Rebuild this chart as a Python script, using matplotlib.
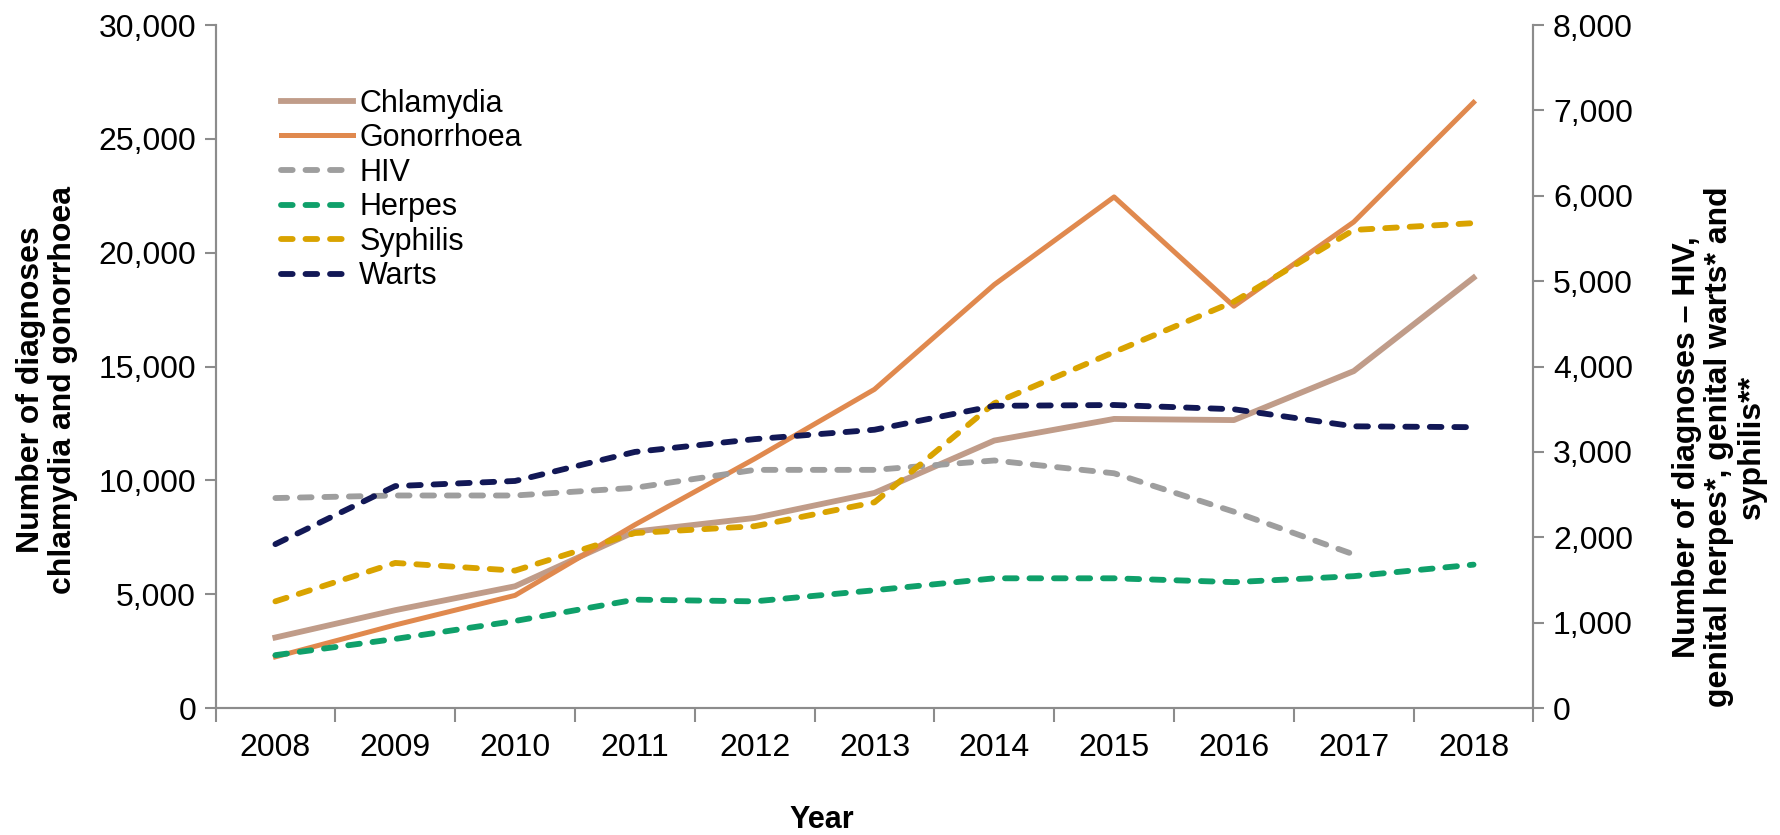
import matplotlib.pyplot as plt
import matplotlib.ticker as mticker

years = [2008, 2009, 2010, 2011, 2012, 2013, 2014, 2015, 2016, 2017, 2018]

# left axis
chlamydia = [3100, 4300, 5350, 7750, 8350, 9450, 11750, 12700, 12650, 14800, 18900]
gonorrhoea = [2250, 3650, 4950, 8050, 10950, 14000, 18600, 22450, 17650, 21350, 26600]

# right axis
hiv_years = years[:-1]
hiv = [2460, 2490, 2490, 2580, 2790, 2790, 2900, 2750, 2300, 1800]
herpes = [620, 810, 1020, 1270, 1250, 1380, 1520, 1520, 1475, 1545, 1680]
syphilis = [1250, 1700, 1610, 2050, 2130, 2410, 3570, 4170, 4760, 5600, 5680]
warts = [1920, 2600, 2660, 3000, 3150, 3260, 3540, 3550, 3500, 3300, 3290]

plt.rcParams['font.family'] = ['Liberation Sans', 'DejaVu Sans']

fig = plt.figure(figsize=(17.81, 8.35), dpi=100)
ax = fig.add_axes([0.121, 0.152, 0.740, 0.818])
ax2 = ax.twinx()

lc, = ax.plot(years, chlamydia, color='#C09C89', lw=4.2, label='Chlamydia')
lg, = ax.plot(years, gonorrhoea, color='#E0894E', lw=3.6, label='Gonorrhoea')
dash = dict(lw=4.2, ls=(0, (2.0, 2.2)), dash_capstyle='round')
lh, = ax2.plot(hiv_years, hiv, color='#9E9E9E', label='HIV', **dash)
lp, = ax2.plot(years, herpes, color='#0FA06A', label='Herpes', **dash)
ls_, = ax2.plot(years, syphilis, color='#D9A300', label='Syphilis', **dash)
lw_, = ax2.plot(years, warts, color='#121856', label='Warts', **dash)

ax.set_xlim(2007.5, 2018.5)
ax.set_ylim(0, 30000)
ax2.set_ylim(0, 8000)
ax.set_xticks(years)
ax.set_yticks(range(0, 30001, 5000))
ax2.set_yticks(range(0, 8001, 1000))
fmt = mticker.FuncFormatter(lambda v, p: f'{int(v):,}')
ax.yaxis.set_major_formatter(fmt)
ax2.yaxis.set_major_formatter(fmt)

# tick marks on the category boundaries
ax.set_xticks([y - 0.5 for y in years] + [years[-1] + 0.5], minor=True)
ax.tick_params(axis='x', which='major', length=0, labelsize=23, pad=18)
ax.tick_params(axis='x', which='minor', length=10, width=1.5, color='#8C8C8C', direction='out')
ax.tick_params(axis='y', labelsize=23, length=8, width=1.5, color='#8C8C8C', pad=6)
ax2.tick_params(axis='y', labelsize=23, length=8, width=1.5, color='#8C8C8C', pad=6)

for a in (ax, ax2):
    a.spines['top'].set_visible(False)
    for s in ('left', 'right', 'bottom'):
        a.spines[s].set_color('#8C8C8C')
        a.spines[s].set_linewidth(1.5)

ax.set_ylabel('Number of diagnoses\nchlamydia and gonorrhoea', fontsize=23,
              fontweight='bold', linespacing=1.1, multialignment='center')
ax.yaxis.set_label_coords(-0.104, 0.466)
ax2.set_ylabel('Number of diagnoses \u2013 HIV,\ngenital herpes*, genital warts* and\nsyphilis**',
               fontsize=23, fontweight='bold', rotation=90, linespacing=1.1,
               multialignment='center')
ax2.yaxis.set_label_coords(1.105, 0.382)
fig.text(0.4615, 0.018, 'Year', fontsize=22, fontweight='bold', ha='center', va='center')

leg = ax.legend(handles=[lc, lg, lh, lp, ls_, lw_], loc='upper left',
                bbox_to_anchor=(0.05, 0.907), frameon=False, fontsize=22,
                handlelength=2.35, handletextpad=0.2, labelspacing=0.15,
                borderaxespad=0, borderpad=0)

fig.savefig('out.png', dpi=100)
